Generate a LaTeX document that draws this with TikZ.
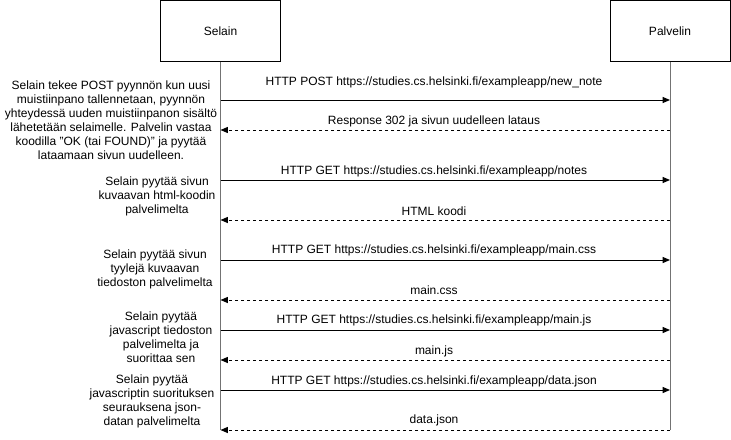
\documentclass[tikz,border=0pt]{standalone}
\usepackage{fontspec}
\setmainfont{Liberation Sans}
\usetikzlibrary{arrows.meta}

\tikzset{
    actor/.style={draw, line width=0.75pt, minimum width=90pt, minimum height=45.5pt, inner sep=0pt, font=\fontsize{9}{10.5}\selectfont},
    life/.style={draw=black!55, line width=0.75pt},
    call/.style={-{Triangle[length=5.5pt, width=4.5pt]}, line width=0.75pt},
    reply/.style={call, dash pattern=on 2.25pt off 2.25pt},
    msg/.style={inner sep=0pt, font=\fontsize{9}{10.5}\selectfont},
    note/.style={inner sep=0pt, align=center, font=\fontsize{9}{10.5}\selectfont}
}

\begin{document}
\begin{tikzpicture}[x=0.75pt, y=-0.75pt]
    \useasboundingbox (0, 0) rectangle (731, 439);
    \node[actor] (selain) at(220.5, 30.75) {Selain};
    \node[actor] (palvelin) at(670, 30.75) {Palvelin};
    \coordinate (selainend) at(220.5, 430);
    \coordinate (palvelinend) at(670, 430);
    \draw[life] (selain) -- (selainend);
    \draw[life] (palvelin) -- (palvelinend);
    \foreach \i/\y in {1/100, 2/130, 3/180, 4/220, 5/260, 6/300, 7/330, 8/360, 9/390, 10/430} {
        \coordinate (s\i) at(220.5, \y);
        \coordinate (p\i) at(670, \y);
    }
    \draw[call] (s1) -- (p1);
    \draw[reply] (p2) -- (s2);
    \draw[call] (s3) -- (p3);
    \draw[reply] (p4) -- (s4);
    \draw[call] (s5) -- (p5);
    \draw[reply] (p6) -- (s6);
    \draw[call] (s7) -- (p7);
    \draw[reply] (p8) -- (s8);
    \draw[call] (s9) -- (p9);
    \draw[reply] (p10) -- (s10);
    \node[msg] (m1) at(434, 82) {HTTP POST https://studies.cs.helsinki.fi/exampleapp/new\_note};
    \node[msg] (m2) at(434, 121) {Response 302 ja sivun uudelleen lataus};
    \node[msg] (m3) at(434, 171) {HTTP GET https://studies.cs.helsinki.fi/exampleapp/notes};
    \node[msg] (m4) at(434, 211) {HTML koodi};
    \node[msg] (m5) at(434, 250.5) {HTTP GET https://studies.cs.helsinki.fi/exampleapp/main.css};
    \node[msg] (m6) at(434, 290.5) {main.css};
    \node[msg] (m7) at(434, 320.5) {HTTP GET https://studies.cs.helsinki.fi/exampleapp/main.js};
    \node[msg] (m8) at(434, 351) {main.js};
    \node[msg] (m9) at(434, 381) {HTTP GET https://studies.cs.helsinki.fi/exampleapp/data.json};
    \node[msg] (m10) at(434, 420.5) {data.json};
    \node[note] (n1) at(111, 120.5) {Selain tekee POST pyynnön kun uusi\\muistiinpano tallennetaan, pyynnön\\yhteydessä uuden muistiinpanon sisältö\\lähetetään selaimelle. Palvelin vastaa\\koodilla "OK (tai FOUND)" ja pyytää\\lataamaan sivun uudelleen.};
    \node[note] (n2) at(157, 196) {Selain pyytää sivun\\kuvaavan html-koodin\\palvelimelta};
    \node[note] (n3) at(155, 269.5) {Selain pyytää sivun\\tyylejä kuvaavan\\tiedoston palvelimelta};
    \node[note] (n4) at(161, 337.5) {Selain pyytää\\javascript tiedoston\\palvelimelta ja\\suorittaa sen};
    \node[note] (n5) at(152, 401.5) {Selain pyytää\\javascriptin suorituksen\\seurauksena json-\\datan palvelimelta};
\end{tikzpicture}
\end{document}
